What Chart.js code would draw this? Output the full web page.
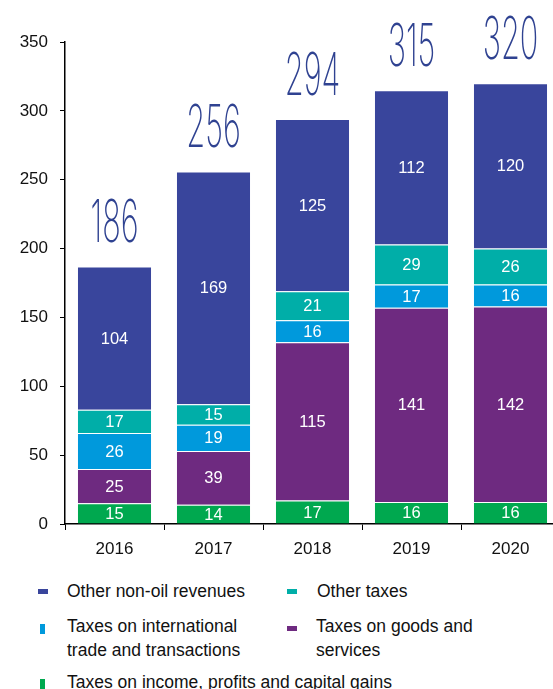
<!DOCTYPE html>
<html>
<head>
<meta charset="utf-8">
<script src="https://cdn.jsdelivr.net/npm/chart.js@4.4.1/dist/chart.umd.min.js"></script>
<style>
  body { margin: 0; background: #fff; font-family: "Liberation Sans", Arial, sans-serif; }
  #wrap { position: relative; width: 553px; height: 689px; overflow: hidden; }
  #chart { position: absolute; left: 0; top: 0; }
  .leg { position: absolute; font-size: 17.5px; color: #111; line-height: 24px; }
  .mk { position: absolute; }
</style>
</head>
<body>
<div id="wrap">
  <canvas id="chart" width="565" height="560"></canvas>
  <div id="legend"></div>
</div>
<script>
const years = ["2016", "2017", "2018", "2019", "2020"];
const incomeTax = [15, 14, 17, 16, 16];
const goodsTax = [25, 39, 115, 141, 142];
const tradeTax = [26, 19, 16, 17, 16];
const otherTax = [17, 15, 21, 29, 26];
const otherNonOil = [104, 169, 125, 112, 120];
const totals = [186, 256, 294, 315, 320];
const yTicks = [0, 50, 100, 150, 200, 250, 300, 350];

const series = [
    { label: "Taxes on income, profits and capital gains", data: incomeTax, color: "#00a84f" },
    { label: "Taxes on goods and services", data: goodsTax, color: "#6e2a80" },
    { label: "Taxes on international trade and transactions", data: tradeTax, color: "#0099dc" },
    { label: "Other taxes", data: otherTax, color: "#00aea8" },
    { label: "Other non-oil revenues", data: otherNonOil, color: "#39459c" }
];

// value inside each segment
const segmentLabels = {
    id: "segmentLabels",
    afterDatasetsDraw(chart) {
        const ctx = chart.ctx;
        ctx.save();
        ctx.fillStyle = "#fff";
        ctx.font = "16.5px 'Liberation Sans', Arial, sans-serif";
        ctx.textAlign = "center";
        ctx.textBaseline = "middle";
        chart.data.datasets.forEach((ds, d) => {
            chart.getDatasetMeta(d).data.forEach((bar, i) => {
                ctx.fillText(ds.data[i], bar.x, (bar.y + bar.base) / 2 + 1);
            });
        });
        ctx.restore();
    }
};

// big condensed totals above bars
const totalLabels = {
    id: "totalLabels",
    afterDatasetsDraw(chart) {
        const ctx = chart.ctx;
        const top = chart.getDatasetMeta(chart.data.datasets.length - 1).data;
        ctx.save();
        ctx.fillStyle = "#2f4291";
        ctx.font = "200 59px Inter, Roboto, sans-serif";
        ctx.textAlign = "center";
        ctx.textBaseline = "alphabetic";
        top.forEach((bar, i) => {
            ctx.save();
            ctx.translate(bar.x, bar.y - 24);
            ctx.scale(0.52, 1);
            ctx.fillText(String(totals[i]), 0, 0);
            ctx.restore();
        });
        ctx.restore();
    }
};

new Chart(document.getElementById("chart"), {
    type: "bar",
    data: {
        labels: years,
        datasets: series.map(s => ({
            label: s.label,
            data: s.data,
            backgroundColor: s.color,
            borderColor: "rgba(255,255,255,0.35)",
            borderWidth: { top: 1 },
            borderSkipped: false,
            categoryPercentage: 0.74,
            barPercentage: 1
        }))
    },
    options: {
        responsive: false,
        animation: false,
        layout: { padding: { top: 42, right: 5, left: 0, bottom: 0 } },
        plugins: { legend: { display: false }, tooltip: { enabled: false } },
        scales: {
            x: {
                stacked: true,
                afterFit(s) { s.height = 36; },
                grid: { drawOnChartArea: false, color: "#000", tickLength: 6, offset: true },
                border: { color: "#000", width: 1.5 },
                ticks: { color: "#111", font: { size: 17, family: "'Liberation Sans', Arial" }, padding: 9 }
            },
            y: {
                stacked: true,
                min: 0,
                max: 350,
                afterFit(s) { s.width = 65; },
                afterBuildTicks(s) { s.ticks = yTicks.map(v => ({ value: v })); },
                grid: { drawOnChartArea: false, color: "#000", tickLength: 5 },
                border: { color: "#000", width: 1.5 },
                ticks: { color: "#111", font: { size: 17, family: "'Liberation Sans', Arial" }, padding: 12 }
            }
        }
    },
    plugins: [segmentLabels, totalLabels]
});

// legend, laid out as in the original
const legendItems = [
    { s: 4, x: 38, y: 589, w: 10, h: 5, tx: 67, ty: 579, text: "Other non-oil revenues" },
    { s: 3, x: 287, y: 589, w: 10, h: 5, tx: 317, ty: 579, text: "Other taxes" },
    { s: 2, x: 40, y: 624, w: 5, h: 10, tx: 67, ty: 614, text: "Taxes on international<br>trade and transactions" },
    { s: 1, x: 287, y: 626, w: 10, h: 5, tx: 316, ty: 614, text: "Taxes on goods and<br>services" },
    { s: 0, x: 40, y: 679, w: 5, h: 10, tx: 67, ty: 670, text: "Taxes on income, profits and capital gains" }
];
const leg = document.getElementById("legend");
legendItems.forEach(it => {
    const m = document.createElement("div");
    m.className = "mk";
    m.style.cssText = `left:${it.x}px;top:${it.y}px;width:${it.w}px;height:${it.h}px;background:${series[it.s].color}`;
    leg.appendChild(m);
    const t = document.createElement("div");
    t.className = "leg";
    t.style.left = it.tx + "px";
    t.style.top = it.ty + "px";
    t.innerHTML = it.text;
    leg.appendChild(t);
});
</script>
</body>
</html>
